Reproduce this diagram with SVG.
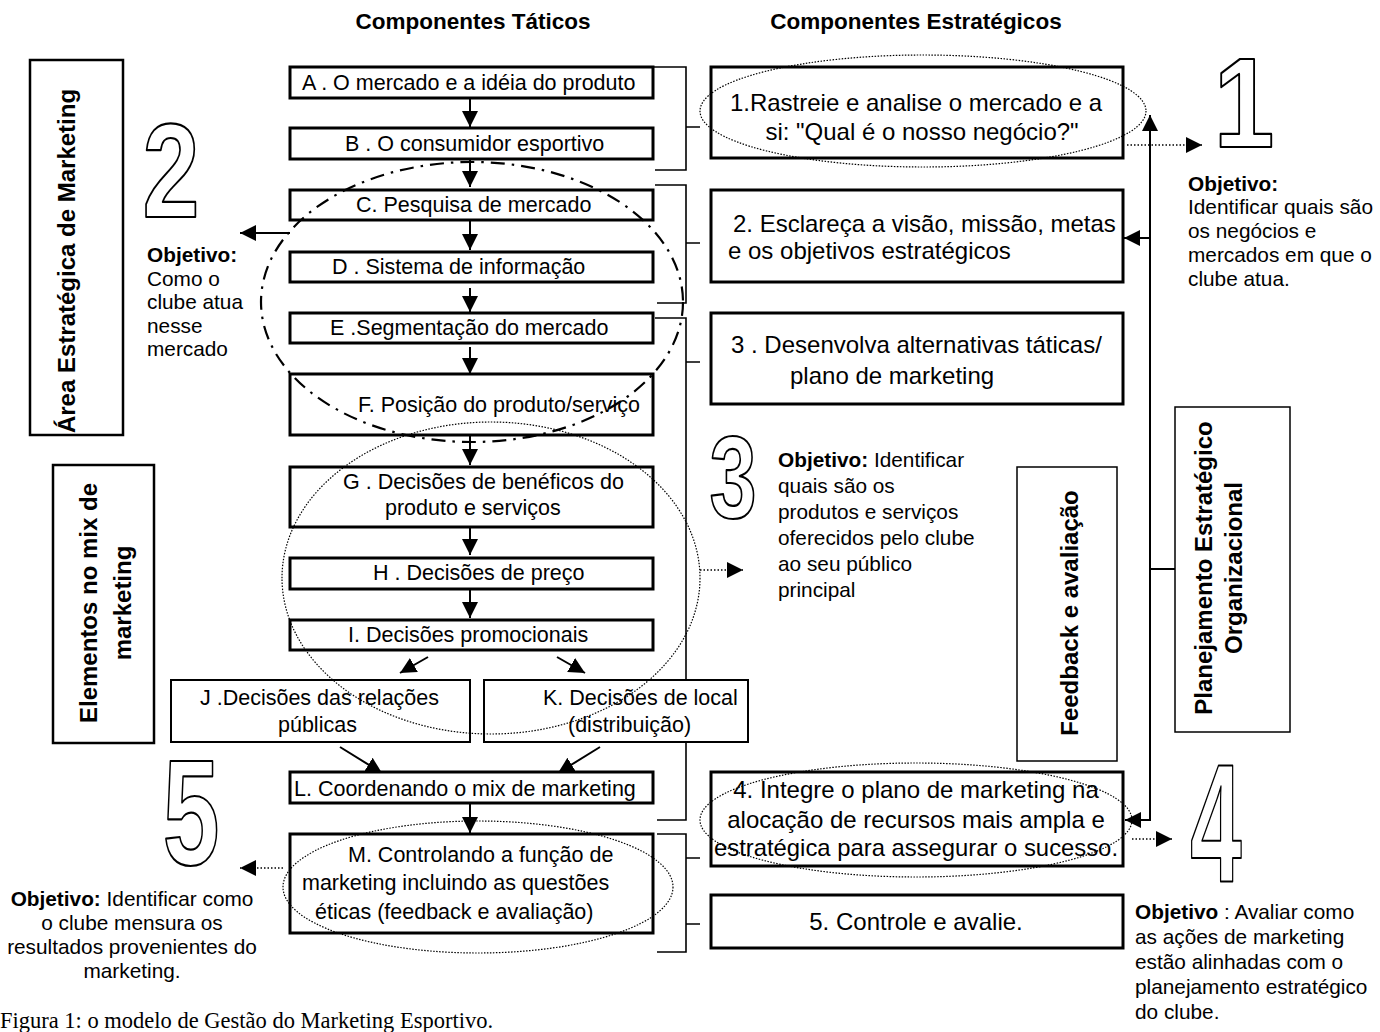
<svg xmlns="http://www.w3.org/2000/svg" width="1380" height="1032" viewBox="0 0 1380 1032">
<style>
text{font-family:"Liberation Sans",Arial,sans-serif;fill:#000}
.t{font-size:21.5px}
.s{font-size:24px}
.o{font-size:20.8px}
.h{font-size:22.5px;font-weight:bold}
.v{font-size:24px;font-weight:bold}
.b{font-weight:bold}
.box3{fill:#fff;stroke:#000;stroke-width:3}
.box2{fill:#fff;stroke:#000;stroke-width:2}
.box25{fill:#fff;stroke:#000;stroke-width:2.5}
.box15{fill:#fff;stroke:#000;stroke-width:1.5}
.ln{fill:none;stroke:#000;stroke-width:2}
.br{fill:none;stroke:#000;stroke-width:1.6}
.dot{fill:none;stroke:#000;stroke-width:1.6;stroke-dasharray:1.5 2}
.dell{fill:none;stroke:#000;stroke-width:1.2;stroke-dasharray:1.5 1.5}
.dd{fill:none;stroke:#000;stroke-width:2.2;stroke-dasharray:14 7 2.5 7}
.num{font-family:"Liberation Sans",Arial,sans-serif;font-weight:bold;fill:#fff;stroke:#000;stroke-width:2.2;stroke-linejoin:round}
.cap{font-family:"Liberation Serif","Times New Roman",serif;font-size:22.5px}
</style>
<defs>
<marker id="ah" markerUnits="userSpaceOnUse" markerWidth="16" markerHeight="16" refX="16" refY="8" orient="auto" viewBox="0 0 16 16">
<path d="M0,0 L16,8 L0,16 Z" fill="#000"/>
</marker>
</defs>
<rect width="1380" height="1032" fill="#fff"/>

<text class="h" x="473" y="29" text-anchor="middle">Componentes Táticos</text>
<text class="h" x="916" y="29" text-anchor="middle">Componentes Estratégicos</text>

<g id="connectors">
<path class="br" d="M653,67 H686 V170 H655 M686,127 H700"/>
<path class="br" d="M655,185 H686 V303 H657 M686,243 H700"/>
<path class="br" d="M655,318 H686 V820 H657 M686,362 H700"/>
<path class="br" d="M657,834 H686 V952 H657 M686,858 H700 M686,924 H700"/>
<line class="ln" x1="470" y1="98" x2="470" y2="127" marker-end="url(#ah)"/>
<line class="ln" x1="470" y1="159" x2="470" y2="187" marker-end="url(#ah)"/>
<line class="ln" x1="470" y1="220" x2="470" y2="250" marker-end="url(#ah)"/>
<line class="ln" x1="470" y1="288" x2="470" y2="312" marker-end="url(#ah)"/>
<line class="ln" x1="470" y1="347" x2="470" y2="374" marker-end="url(#ah)"/>
<line class="ln" x1="470" y1="435" x2="470" y2="465" marker-end="url(#ah)"/>
<line class="ln" x1="470" y1="525" x2="470" y2="555" marker-end="url(#ah)"/>
<line class="ln" x1="470" y1="585" x2="470" y2="618" marker-end="url(#ah)"/>
<line class="ln" x1="428" y1="657" x2="400" y2="673" marker-end="url(#ah)"/>
<line class="ln" x1="557" y1="657" x2="585" y2="673" marker-end="url(#ah)"/>
<line class="ln" x1="340" y1="747" x2="382" y2="773" marker-end="url(#ah)"/>
<line class="ln" x1="600" y1="747" x2="558" y2="773" marker-end="url(#ah)"/>
<line class="ln" x1="470" y1="803" x2="470" y2="833" marker-end="url(#ah)"/>
<line class="ln" x1="290" y1="233" x2="240" y2="233" marker-end="url(#ah)"/>
<line class="ln" x1="1150" y1="821" x2="1150" y2="115" marker-end="url(#ah)"/>
<line class="ln" x1="1150" y1="238" x2="1124" y2="238" marker-end="url(#ah)"/>
<line class="ln" x1="1151" y1="820" x2="1125" y2="820" marker-end="url(#ah)"/>
<line class="ln" x1="1150" y1="569" x2="1175" y2="569"/>
<line class="dot" x1="1127" y1="145" x2="1202" y2="145" marker-end="url(#ah)"/>
<line class="dot" x1="700" y1="570" x2="743" y2="570" marker-end="url(#ah)"/>
<line class="dot" x1="1132" y1="839" x2="1172" y2="839" marker-end="url(#ah)"/>
<line class="dot" x1="283" y1="868" x2="240" y2="868" marker-end="url(#ah)"/>
</g>

<g id="area-estrategica">
<rect class="box25" x="30" y="60" width="93" height="375"/>
<text class="v" transform="translate(75,261) rotate(-90)" text-anchor="middle">Área Estratégica de Marketing</text>
</g>
<g id="elementos-mix">
<rect class="box25" x="53" y="465" width="101" height="278"/>
<text class="v" transform="translate(97,603) rotate(-90)" text-anchor="middle">Elementos no mix de</text>
<text class="v" transform="translate(131,603) rotate(-90)" text-anchor="middle">marketing</text>
</g>

<g id="nA"><rect class="box3" x="290" y="67" width="363" height="31"/><text class="t" x="302" y="90">A . O mercado e a idéia do produto</text></g>
<g id="nB"><rect class="box3" x="290" y="128" width="363" height="31"/><text class="t" x="345" y="151">B . O consumidor esportivo</text></g>
<g id="nC"><rect class="box3" x="290" y="190" width="363" height="30"/><text class="t" x="356" y="212">C. Pesquisa de mercado</text></g>
<g id="nD"><rect class="box3" x="290" y="252" width="363" height="30"/><text class="t" x="332" y="274">D . Sistema de informação</text></g>
<g id="nE"><rect class="box3" x="290" y="313" width="363" height="30"/><text class="t" x="330" y="335">E .Segmentação do mercado</text></g>
<g id="nF"><rect class="box3" x="290" y="374" width="363" height="61"/><text class="t" x="358" y="412">F. Posição do produto/serviço</text></g>
<g id="nG"><rect class="box3" x="290" y="467" width="363" height="60"/><text class="t" x="343" y="489">G . Decisões de benéficos do</text><text class="t" x="385" y="515">produto e serviços</text></g>
<g id="nH"><rect class="box3" x="290" y="558" width="363" height="31"/><text class="t" x="373" y="580">H . Decisões de preço</text></g>
<g id="nI"><rect class="box3" x="290" y="620" width="363" height="30"/><text class="t" x="348" y="642">I. Decisões promocionais</text></g>
<g id="nJ"><rect class="box2" x="171" y="680" width="299" height="62"/><text class="t" x="200" y="705">J .Decisões das relações</text><text class="t" x="278" y="732">públicas</text></g>
<g id="nK"><rect class="box2" x="484" y="680" width="264" height="62"/><text class="t" x="543" y="705">K. Decisões de local</text><text class="t" x="568" y="732">(distribuição)</text></g>
<g id="nL"><rect class="box3" x="290" y="772" width="363" height="31"/><text class="t" x="294" y="796">L. Coordenando o mix de marketing</text></g>
<g id="nM"><rect class="box3" x="290" y="834" width="363" height="99"/><text class="t" x="348" y="862">M. Controlando a função de</text><text class="t" x="302" y="890">marketing incluindo as questões</text><text class="t" x="315" y="919">éticas (feedback e avaliação)</text></g>

<g id="s1"><rect class="box3" x="711" y="67" width="412" height="91"/><text class="s" x="916" y="111" text-anchor="middle">1.Rastreie e analise o mercado e a</text><text class="s" x="922" y="140" text-anchor="middle">si: "Qual é o nosso negócio?"</text></g>
<g id="s2"><rect class="box3" x="711" y="190" width="412" height="92"/><text class="s" x="733" y="232">2. Esclareça a visão, missão, metas</text><text class="s" x="728" y="259">e os objetivos estratégicos</text></g>
<g id="s3"><rect class="box3" x="711" y="313" width="412" height="91"/><text class="s" x="731" y="353">3 . Desenvolva alternativas táticas/</text><text class="s" x="790" y="384">plano de marketing</text></g>
<g id="s4"><rect class="box3" x="711" y="772" width="412" height="94"/><text class="s" x="916" y="798" text-anchor="middle">4. Integre o plano de marketing na</text><text class="s" x="916" y="828" text-anchor="middle">alocação de recursos mais ampla e</text><text class="s" x="916" y="856" text-anchor="middle" textLength="404" lengthAdjust="spacingAndGlyphs">estratégica para assegurar o sucesso.</text></g>
<g id="s5"><rect class="box3" x="711" y="895" width="412" height="53"/><text class="s" x="916" y="930" text-anchor="middle">5. Controle e avalie.</text></g>

<g id="feedback">
<rect class="box15" x="1017" y="467" width="100" height="294"/>
<text class="v" transform="translate(1078,613) rotate(-90)" text-anchor="middle">Feedback e avaliação</text>
</g>
<g id="planejamento">
<rect class="box15" x="1175" y="407" width="115" height="325"/>
<text class="v" transform="translate(1212,568) rotate(-90)" text-anchor="middle">Planejamento Estratégico</text>
<text class="v" transform="translate(1242,568) rotate(-90)" text-anchor="middle">Organizacional</text>
</g>

<g id="ellipses">
<ellipse class="dd" cx="472" cy="302" rx="211" ry="140"/>
<ellipse class="dell" cx="923" cy="111" rx="223" ry="56"/>
<ellipse class="dell" cx="491" cy="578" rx="209" ry="156"/>
<ellipse class="dell" cx="916" cy="820" rx="216" ry="57"/>
<ellipse class="dell" cx="478" cy="887" rx="195" ry="66"/>
</g>

<g id="numbers">
<text class="num" font-size="128" text-anchor="middle" transform="translate(1244,147) scale(0.85,1)">1</text>
<text class="num" font-size="133" text-anchor="middle" transform="translate(171,217) scale(0.77,1)">2</text>
<text class="num" font-size="116" text-anchor="middle" transform="translate(733,518) scale(0.73,1)">3</text>
<text class="num" font-size="168" text-anchor="middle" transform="translate(1216,882) scale(0.55,1)">4</text>
<text class="num" font-size="150" text-anchor="middle" transform="translate(191,865) scale(0.68,1)">5</text>
</g>

<g id="obj1">
<text class="o b" x="1188" y="191">Objetivo:</text>
<text class="o" x="1188" y="214">Identificar quais são</text>
<text class="o" x="1188" y="238">os negócios e</text>
<text class="o" x="1188" y="262">mercados em que o</text>
<text class="o" x="1188" y="286">clube atua.</text>
</g>
<g id="obj2">
<text class="o b" x="147" y="262">Objetivo:</text>
<text class="o" x="147" y="286">Como o</text>
<text class="o" x="147" y="309">clube atua</text>
<text class="o" x="147" y="333">nesse</text>
<text class="o" x="147" y="356">mercado</text>
</g>
<g id="obj3">
<text class="o" x="778" y="467"><tspan class="b">Objetivo:</tspan> Identificar</text>
<text class="o" x="778" y="493">quais são os</text>
<text class="o" x="778" y="519">produtos e serviços</text>
<text class="o" x="778" y="545">oferecidos pelo clube</text>
<text class="o" x="778" y="571">ao seu público</text>
<text class="o" x="778" y="597">principal</text>
</g>
<g id="obj5">
<text class="o" x="132" y="906" text-anchor="middle"><tspan class="b">Objetivo:</tspan> Identificar como</text>
<text class="o" x="132" y="930" text-anchor="middle">o clube mensura os</text>
<text class="o" x="132" y="954" text-anchor="middle">resultados provenientes do</text>
<text class="o" x="132" y="978" text-anchor="middle">marketing.</text>
</g>
<g id="obj4">
<text class="o" x="1135" y="919"><tspan class="b">Objetivo</tspan> : Avaliar como</text>
<text class="o" x="1135" y="944">as ações de marketing</text>
<text class="o" x="1135" y="969">estão alinhadas com o</text>
<text class="o" x="1135" y="994">planejamento estratégico</text>
<text class="o" x="1135" y="1019">do clube.</text>
</g>

<text class="cap" x="0" y="1028">Figura 1: o modelo de Gestão do Marketing Esportivo.</text>
</svg>
